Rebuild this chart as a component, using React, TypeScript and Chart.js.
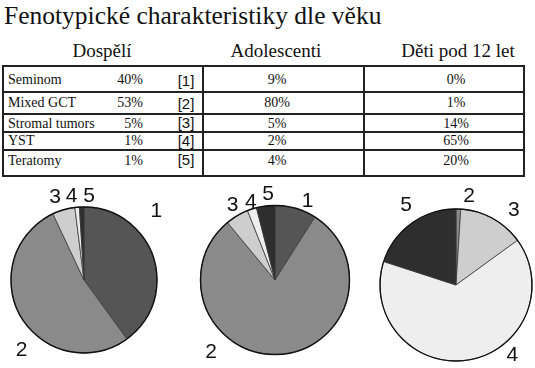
import React, { useEffect, useRef } from 'react';
import { Chart, registerables } from 'chart.js';

Chart.register(...registerables);

// ---------------- data ----------------
const TITLE = 'Fenotypické charakteristiky dle věku';
const groups = ['Dospělí', 'Adolescenti', 'Děti pod 12 let'];
const categories = ['Seminom', 'Mixed GCT', 'Stromal tumors', 'YST', 'Teratomy'];
const sliceLabels = ['1', '2', '3', '4', '5'];
const adultValues = [40, 53, 5, 1, 1];
const adolescentValues = [9, 80, 5, 2, 4];
const childValues = [0, 1, 14, 65, 20];

// ---------------- styles / layout ----------------
const SERIF = '"Liberation Serif", "Times New Roman", Times, serif';
const SANS = '"Liberation Sans", Arial, Helvetica, sans-serif';
const W = 535;
const H = 368;
const SLICE_COLORS = ['#555555', '#8a8a8a', '#cecece', '#eeeeee', '#2e2e2e'];

const TABLE_LEFT = 3;
const TABLE_RIGHT = 524;
const ROW_LINES = [66, 92, 114, 132, 150, 176];
const COL_LINES = [3, 203, 364, 524];
const ROW_BASELINES = [84.5, 107.5, 128, 145.5, 165];
const BRACKET_BASELINES = [87, 109.5, 129, 146.5, 166];
const HEADER_CENTERS = [102, 276, 458];

// label placement: [angle in degrees clockwise from top, distance as factor of radius]
const adultLabelPos: ([number, number] | null)[] = [[45.8, 1.38], [222, 1.28], [-18.9, 1.22], [-8.4, 1.17], [3.4, 1.16]];
const adolLabelPos: ([number, number] | null)[] = [[22.1, 1.16], [222, 1.28], [-29.2, 1.17], [-16.9, 1.11], [-4.6, 1.165]];
const childLabelPos: ([number, number] | null)[] = [null, [8.2, 1.2], [37.5, 1.25], [140.7, 1.17], [-31.7, 1.25]];

function Text(props: { x: number; baseline: number; size: number; font: string; align: 'left' | 'right' | 'center'; children: React.ReactNode }) {
  const { x, baseline, size, font, align, children } = props;
  const asc = font === SERIF ? 0.891 : 0.905;
  const lh = font === SERIF ? 1.107 : 1.117;
  const style: React.CSSProperties = {
    position: 'absolute',
    top: baseline - asc * size,
    fontFamily: font,
    fontSize: size,
    lineHeight: `${lh * size}px`,
    whiteSpace: 'nowrap',
    color: '#111',
  };
  if (align === 'left') style.left = x;
  else if (align === 'right') style.right = W - x;
  else {
    style.left = x - 150;
    style.width = 300;
    style.textAlign = 'center';
  }
  return <div style={style}>{children}</div>;
}

const PIE_SIZE = 240;

function makeLabelPlugin(values: number[], pos: ([number, number] | null)[]) {
  return {
    id: 'sliceNumberLabels',
    afterDatasetsDraw(chart: any) {
      const meta = chart.getDatasetMeta(0);
      const ctx = chart.ctx as CanvasRenderingContext2D;
      const first = meta.data[0];
      if (!first) return;
      const { x, y, outerRadius } = first.getProps(['x', 'y', 'outerRadius'], true);
      ctx.save();
      ctx.beginPath();
      ctx.arc(x, y, outerRadius, 0, Math.PI * 2);
      ctx.lineWidth = 1.4;
      ctx.strokeStyle = '#111';
      ctx.stroke();
      ctx.font = `21px ${SANS}`;
      ctx.fillStyle = '#111';
      ctx.textAlign = 'center';
      ctx.textBaseline = 'middle';
      meta.data.forEach((_arc: any, i: number) => {
        const p = pos[i];
        if (!p || values[i] === 0) return;
        const a = (p[0] * Math.PI) / 180;
        const d = p[1] * outerRadius;
        ctx.fillText(sliceLabels[i], x + Math.sin(a) * d, y - Math.cos(a) * d + 1);
      });
      ctx.restore();
    },
  };
}

function Pie(props: { values: number[]; cx: number; cy: number; radius: number; labelPos: ([number, number] | null)[] }) {
  const { values, cx, cy, radius, labelPos } = props;
  const ref = useRef<HTMLCanvasElement | null>(null);
  useEffect(() => {
    if (!ref.current) return;
    const chart = new Chart(ref.current, {
      type: 'pie',
      data: {
        labels: sliceLabels,
        datasets: [
          {
            data: values,
            backgroundColor: SLICE_COLORS,
            borderColor: '#3a3a3a',
            borderWidth: 0.8,
            radius: radius,
          } as any,
        ],
      },
      options: {
        responsive: false,
        maintainAspectRatio: false,
        animation: false,
        events: [],
        layout: { padding: 0 },
        plugins: {
          legend: { display: false },
          tooltip: { enabled: false },
          title: { display: false },
        },
      },
      plugins: [makeLabelPlugin(values, labelPos)],
    });
    return () => chart.destroy();
  }, []);
  return (
    <canvas
      ref={ref}
      width={PIE_SIZE}
      height={PIE_SIZE}
      style={{ position: 'absolute', left: cx - PIE_SIZE / 2, top: cy - PIE_SIZE / 2, width: PIE_SIZE, height: PIE_SIZE }}
    />
  );
}

export default function App() {
  const line = '#222';
  const T = 2;
  return (
    <div style={{ position: 'fixed', left: 0, top: 0, width: W, height: H, background: '#fff', overflow: 'hidden' }}>
      <Text x={4} baseline={25} size={25.5} font={SERIF} align="left">{TITLE}</Text>
      {groups.map((g, i) => (
        <Text key={g} x={HEADER_CENTERS[i]} baseline={57} size={19} font={SERIF} align="center">{g}</Text>
      ))}
      {ROW_LINES.map((y, i) => (
        <div key={'h' + i} style={{ position: 'absolute', left: TABLE_LEFT - 1, top: y - 1, width: TABLE_RIGHT - TABLE_LEFT + T, height: T, background: line }} />
      ))}
      {COL_LINES.map((x, i) => (
        <div key={'v' + i} style={{ position: 'absolute', left: x - 1, top: ROW_LINES[0] - 1, width: T, height: ROW_LINES[ROW_LINES.length - 1] - ROW_LINES[0] + T, background: line }} />
      ))}
      {categories.map((c, i) => (
        <React.Fragment key={c}>
          <Text x={8} baseline={ROW_BASELINES[i]} size={14} font={SERIF} align="left">{c}</Text>
          <Text x={143} baseline={ROW_BASELINES[i]} size={14} font={SERIF} align="right">{adultValues[i] + '%'}</Text>
          <Text x={186} baseline={BRACKET_BASELINES[i]} size={15} font={SANS} align="center">{'[' + sliceLabels[i] + ']'}</Text>
          <Text x={277} baseline={ROW_BASELINES[i]} size={14} font={SERIF} align="center">{adolescentValues[i] + '%'}</Text>
          <Text x={456} baseline={ROW_BASELINES[i]} size={14} font={SERIF} align="center">{childValues[i] + '%'}</Text>
        </React.Fragment>
      ))}
      <Pie values={adultValues} cx={84} cy={280} radius={73} labelPos={adultLabelPos} />
      <Pie values={adolescentValues} cx={275} cy={280} radius={74.5} labelPos={adolLabelPos} />
      <Pie values={childValues} cx={456} cy={285} radius={76} labelPos={childLabelPos} />
    </div>
  );
}
